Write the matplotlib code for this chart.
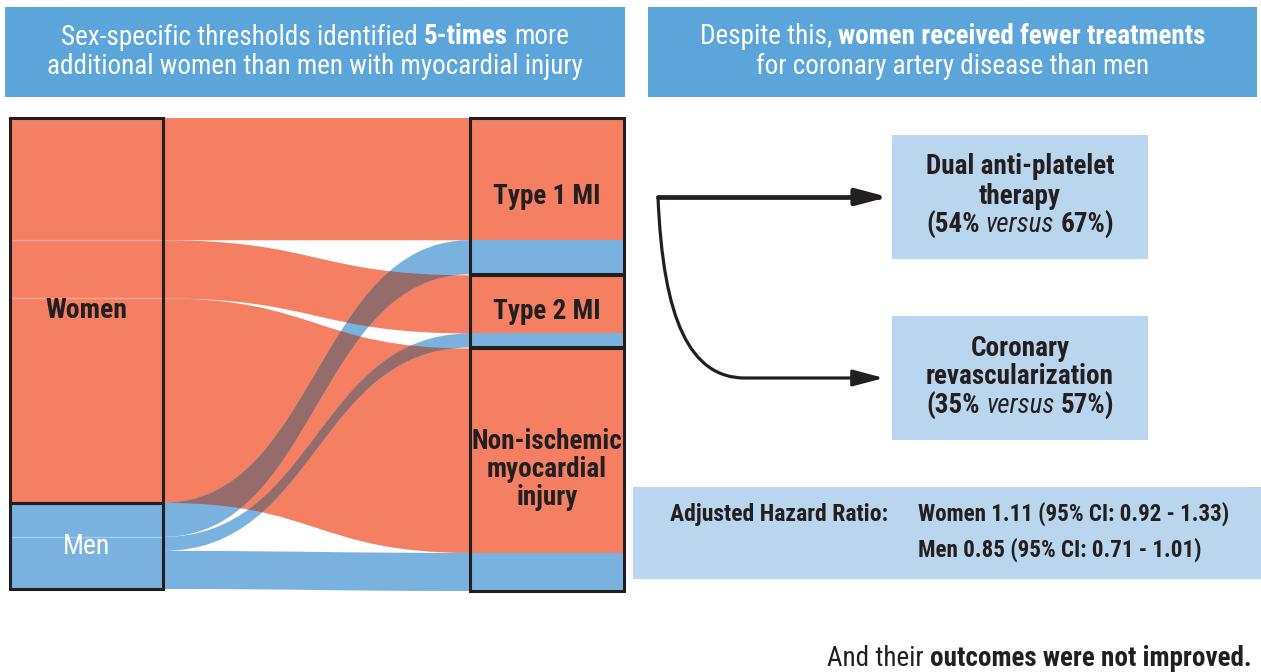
import numpy as np
import matplotlib
matplotlib.use("Agg")
import matplotlib.pyplot as plt
from matplotlib.path import Path
from matplotlib.patches import PathPatch, Rectangle, FancyArrowPatch
from matplotlib import font_manager

# ---------------- data ----------------
sources = ["Women", "Men"]
targets = ["Type 1 MI", "Type 2 MI", "Non-ischemic\nmyocardial\ninjury"]
women_flows = [122, 58, 204]   # Women -> Type 1 MI, Type 2 MI, Non-ischemic injury
men_flows = [34, 14, 38]       # Men   -> Type 1 MI, Type 2 MI, Non-ischemic injury

header_left = [[("Sex-specific thresholds identified", "n"), ("5-times", "b"), ("more", "n")],
               [("additional women than men with myocardial injury", "n")]]
header_right = [[("Despite this,", "n"), ("women received fewer treatments", "b")],
                [("for coronary artery disease than men", "n")]]
treat_names = [["Dual anti-platelet", "therapy"], ["Coronary", "revascularization"]]
treat_women = [54, 35]
treat_men = [67, 57]
hr_label = "Adjusted Hazard Ratio:"
hr_lines = ["Women 1.11 (95% CI: 0.92 - 1.33)", "Men 0.85 (95% CI: 0.71 - 1.01)"]
footer = [("And their", "n"), ("outcomes were not improved.", "b")]

# ---------------- style ----------------
SALMON = "#F47F63"
BLUE = "#7AB2DF"
BROWN = "#966C6A"
HEAD = "#5BA5DA"
LIGHT = "#BAD5EE"
DARK = "#231F20"

names = {f.name for f in font_manager.fontManager.ttflist}
FONT = "DejaVu Sans"
for cand in ["Roboto Condensed", "Liberation Sans Narrow", "Roboto", "Open Sans"]:
    if cand in names:
        FONT = cand
        break
plt.rcParams["font.family"] = [FONT, "DejaVu Sans"]

W, H = 1261, 672
fig = plt.figure(figsize=(W / 100, H / 100), dpi=100)
ax = fig.add_axes([0, 0, 1, 1])
ax.set_xlim(0, W)
ax.set_ylim(H, 0)
ax.axis("off")
renderer = fig.canvas.get_renderer()

WEIGHTS = {"n": dict(weight="normal"), "b": dict(weight="bold"),
           "i": dict(weight="normal", style="italic"), "m": dict(weight="medium")}


def rich(x, y, parts, size, color, ha="center"):
    objs, widths = [], []
    for t, k in parts:
        o = ax.text(0, y, t, fontsize=size, color=color, va="center", ha="left",
                    zorder=9, **WEIGHTS[k])
        objs.append(o)
        widths.append(o.get_window_extent(renderer).width)
    a = ax.text(0, 0, "a a", fontsize=size)
    b = ax.text(0, 0, "aa", fontsize=size)
    space = a.get_window_extent(renderer).width - b.get_window_extent(renderer).width
    a.remove(); b.remove()
    total = sum(widths) + space * (len(parts) - 1)
    cur = {"center": x - total / 2, "left": x, "right": x - total}[ha]
    for o, w in zip(objs, widths):
        o.set_x(cur)
        cur += w + space


# ---------------- header boxes ----------------
for (x0, x1), lines in [((5, 625), header_left), ((648, 1257), header_right)]:
    ax.add_patch(Rectangle((x0, 7), x1 - x0, 90, facecolor=HEAD, edgecolor="none"))
    for i, ln in enumerate(lines):
        rich((x0 + x1) / 2, 37 + 29 * i, ln, 19.5, "white")

# ---------------- sankey ----------------
xl0, xl1, xr0, xr1 = 10, 163, 470, 624
top, bottom, gap = 118, 589, 1.0
total = sum(women_flows) + sum(men_flows)
scale = (bottom - top) / total

w_tot = sum(women_flows) * scale
left_w = top + np.concatenate([[0], np.cumsum(women_flows)]) * scale
left_m = top + w_tot + np.concatenate([[0], np.cumsum(men_flows)]) * scale
tgt_tot = np.array(women_flows) + np.array(men_flows)
tgt_top = top + np.concatenate([[0], np.cumsum(tgt_tot)[:-1]]) * scale + gap * np.arange(len(targets))
right_w = [(tgt_top[i], tgt_top[i] + women_flows[i] * scale) for i in range(3)]
right_m = [(tgt_top[i] + women_flows[i] * scale, tgt_top[i] + tgt_tot[i] * scale) for i in range(3)]


def band(ya0, ya1, yb0, yb1):
    xm = (xl1 + xr0) / 2
    verts = [(xl1, ya0), (xm, ya0), (xm, yb0), (xr0, yb0), (xr0, yb1),
             (xm, yb1), (xm, ya1), (xl1, ya1), (xl1, ya0)]
    codes = [Path.MOVETO, Path.CURVE4, Path.CURVE4, Path.CURVE4, Path.LINETO,
             Path.CURVE4, Path.CURVE4, Path.CURVE4, Path.CLOSEPOLY]
    return Path(verts, codes)


w_patches = []
for i in range(3):
    p = PathPatch(band(left_w[i], left_w[i + 1], *right_w[i]), facecolor=SALMON,
                  edgecolor="none", zorder=2)
    ax.add_patch(p)
    w_patches.append(p)
m_paths = []
for i in range(3):
    pth = band(left_m[i], left_m[i + 1], *right_m[i])
    ax.add_patch(PathPatch(pth, facecolor=BLUE, edgecolor="none", zorder=3))
    m_paths.append(pth)
# overlaps drawn darker (multiplied colours)
for pth in m_paths:
    for wp in w_patches:
        q = PathPatch(pth, facecolor=BROWN, edgecolor="none", zorder=4)
        ax.add_patch(q)
        q.set_clip_path(wp)

# left nodes
for i in range(3):
    ax.add_patch(Rectangle((xl0, left_w[i]), xl1 - xl0, women_flows[i] * scale,
                           facecolor=SALMON, edgecolor="none", zorder=5))
    ax.add_patch(Rectangle((xl0, left_m[i]), xl1 - xl0, men_flows[i] * scale,
                           facecolor=BLUE, edgecolor="none", zorder=5))
for y in list(left_w[1:-1]) + list(left_m[1:2]):
    ax.plot([xl0, xl1], [y, y], color="white", alpha=0.35, lw=0.9, zorder=6)
ax.add_patch(Rectangle((xl0, left_w[0]), xl1 - xl0, w_tot, facecolor="none",
                       edgecolor=DARK, lw=2.2, zorder=7))
ax.add_patch(Rectangle((xl0, left_m[0]), xl1 - xl0, sum(men_flows) * scale,
                       facecolor="none", edgecolor=DARK, lw=2.2, zorder=7))
# right nodes
for i in range(3):
    ax.add_patch(Rectangle((xr0, right_w[i][0]), xr1 - xr0, right_w[i][1] - right_w[i][0],
                           facecolor=SALMON, edgecolor="none", zorder=5))
    ax.add_patch(Rectangle((xr0, right_m[i][0]), xr1 - xr0, right_m[i][1] - right_m[i][0],
                           facecolor=BLUE, edgecolor="none", zorder=5))
    ax.add_patch(Rectangle((xr0, tgt_top[i]), xr1 - xr0, tgt_tot[i] * scale,
                           facecolor="none", edgecolor=DARK, lw=2.2, zorder=7))

# node labels
ax.text((xl0 + xl1) / 2, (left_w[0] + left_w[-1]) / 2, sources[0], fontsize=20,
        weight="bold", color=DARK, ha="center", va="center", zorder=8)
ax.text((xl0 + xl1) / 2, (left_m[0] + left_m[-1]) / 2 + 1, sources[1], fontsize=20,
        weight="normal", color="white", ha="center", va="center", zorder=8)
for i in range(3):
    yc = tgt_top[i] + tgt_tot[i] * scale / 2
    ax.text((xr0 + xr1) / 2, yc, targets[i], fontsize=19.5, weight="bold",
            color=DARK, ha="center", va="center", linespacing=1.05, zorder=8)

# ---------------- treatments ----------------
box_y = [135, 316]
for k in range(2):
    y0 = box_y[k]
    ax.add_patch(Rectangle((892, y0), 256, 124, facecolor=LIGHT, edgecolor="none"))
    cx = 1020
    for j, t in enumerate(treat_names[k]):
        rich(cx, y0 + 32 + 29 * j, [(t, "b")], 19.5, DARK)
    rich(cx, y0 + 90, [(f"({treat_women[k]}%", "b"), ("versus", "i"),
                       (f"{treat_men[k]}%)", "b")], 19.5, DARK)

arrowstyle = "-|>,head_length=1.7,head_width=0.45"
arr1 = FancyArrowPatch(path=Path([(658, 197), (888, 197)]), arrowstyle=arrowstyle,
                       mutation_scale=11, lw=3.4, color=DARK, shrinkA=0, shrinkB=0)
ax.add_patch(arr1)
arr2 = FancyArrowPatch(path=Path([(658, 197), (663, 320), (690, 378), (745, 378), (884, 378)],
                                 [Path.MOVETO, Path.CURVE4, Path.CURVE4, Path.CURVE4, Path.LINETO]),
                       arrowstyle=arrowstyle, mutation_scale=11, lw=2.3, color=DARK,
                       shrinkA=0, shrinkB=0)
ax.add_patch(arr2)

# ---------------- hazard ratio ----------------
ax.add_patch(Rectangle((633, 487), W - 633, 92, facecolor=LIGHT, edgecolor="none"))
rich(670, 514, [(hr_label, "b")], 17, DARK, ha="left")
for j, t in enumerate(hr_lines):
    rich(918, 514 + 36 * j, [(t, "b")], 16.6, DARK, ha="left")

rich(1252, 659, footer, 19.5, DARK, ha="right")

fig.savefig("out.png", dpi=100)
